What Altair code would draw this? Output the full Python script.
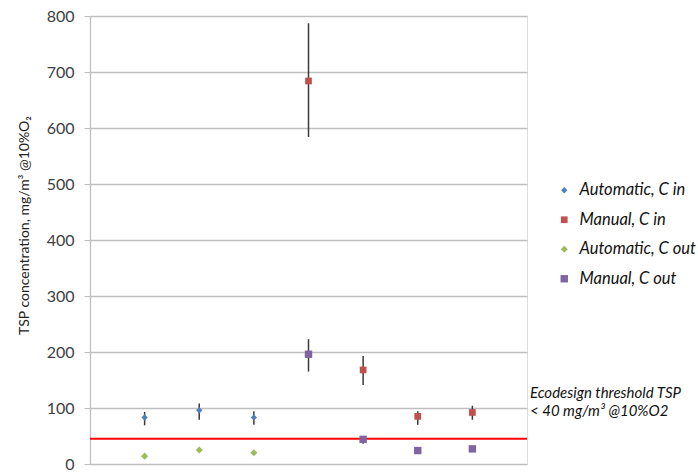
import altair as alt
import pandas as pd

series_names = ["Automatic, C in", "Manual, C in", "Automatic, C out", "Manual, C out"]
series_colors = ["#4F81BD", "#C0504D", "#9BBB59", "#8064A2"]
series_shapes = ["diamond", "square", "diamond", "square"]

auto_in_x = [1, 2, 3]
auto_in_y = [83, 96, 83]
auto_in_lo = [69, 79, 70]
auto_in_hi = [93, 108, 94]

auto_out_x = [1, 2, 3]
auto_out_y = [14, 25, 20]

man_in_x = [4, 5, 6, 7]
man_in_y = [684, 168, 85, 92]
man_in_lo = [584, 141, 70, 79]
man_in_hi = [787, 193, 94, 104]

man_out_x = [4, 5, 6, 7]
man_out_y = [196, 44, 24, 27]
man_out_lo = [165, 36, None, None]
man_out_hi = [223, 50, None, None]

threshold = 45
y_ticks = [0, 100, 200, 300, 400, 500, 600, 700, 800]

rows = []
def add(name, xs, ys, los=None, his=None):
    for i, (x, y) in enumerate(zip(xs, ys)):
        rows.append({
            "series": name, "x": x, "y": y,
            "lo": None if los is None else los[i],
            "hi": None if his is None else his[i],
        })

add(series_names[0], auto_in_x, auto_in_y, auto_in_lo, auto_in_hi)
add(series_names[1], man_in_x, man_in_y, man_in_lo, man_in_hi)
add(series_names[2], auto_out_x, auto_out_y)
add(series_names[3], man_out_x, man_out_y, man_out_lo, man_out_hi)
df = pd.DataFrame(rows)
err = df.dropna(subset=["lo", "hi"])

font = "Lato"
xscale = alt.Scale(domain=[0, 8], nice=False, zero=False)
yscale = alt.Scale(domain=[0, 800], nice=False)

base_y_axis = alt.Axis(
    values=y_ticks, grid=True, gridColor="#BFBFBF", gridWidth=1.3,
    domainColor="#BFBFBF", domainWidth=1.3, tickColor="#BFBFBF", tickSize=6,
    labelFontSize=16, labelColor="#404040", labelFont=font, labelPadding=10,
    title="TSP concentration, mg/m³ @10%O₂", titleFont=font, titleFontSize=14,
    titleFontWeight="normal", titleColor="#222222", titlePadding=15, titleY=209,
)

errbars = alt.Chart(err).mark_rule(color="#3a3a3a", strokeWidth=1.5).encode(
    x=alt.X("x:Q", scale=xscale, axis=None),
    y=alt.Y("lo:Q", scale=yscale, axis=base_y_axis),
    y2="hi:Q",
)

thr_df = pd.DataFrame({"x0": [0], "x1": [8], "y": [threshold]})
thr = alt.Chart(thr_df).mark_rule(color="#FF0000", strokeWidth=2).encode(
    x=alt.X("x0:Q", scale=xscale, axis=None), x2="x1:Q",
    y=alt.Y("y:Q", scale=yscale),
)

points = alt.Chart(df).mark_point(filled=True, opacity=1).encode(
    x=alt.X("x:Q", scale=xscale, axis=None),
    y=alt.Y("y:Q", scale=yscale),
    color=alt.Color("series:N", scale=alt.Scale(domain=series_names, range=series_colors),
                    legend=alt.Legend(title=None, orient="none", legendX=466, legendY=166,
                                      labelFont=font, labelFontSize=16.5, labelFontStyle="italic",
                                      labelColor="#111111", symbolSize=40, rowPadding=12.5,
                                      labelLimit=300, labelOffset=7)),
    shape=alt.Shape("series:N", scale=alt.Scale(domain=series_names, range=series_shapes), legend=None),
    size=alt.Size("series:N", scale=alt.Scale(domain=series_names, range=[40, 55, 45, 55]), legend=None),
)

ann_df = pd.DataFrame({"x": [8, 8], "y": [127, 95],
                       "t": ["Ecodesign threshold TSP", "< 40 mg/m³ @10%O2"]})
ann = alt.Chart(ann_df).mark_text(align="left", baseline="middle", dx=3, fontSize=15,
                                  font=font, fontStyle="italic", color="#111111").encode(
    x=alt.X("x:Q", scale=xscale), y=alt.Y("y:Q", scale=yscale), text="t:N",
)

chart = alt.layer(errbars, thr, points, ann).properties(
    width=437, height=448,
    autosize=alt.AutoSizeParams(type="none"),
    padding={"left": 90, "top": 16, "right": 171, "bottom": 10},
).configure_view(stroke=None).configure(background="white")

chart.save("out.html", embed_options={"renderer": "svg", "actions": False})
